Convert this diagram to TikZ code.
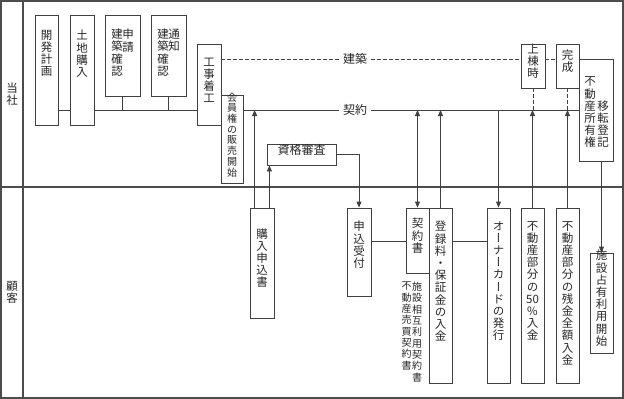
\documentclass[tikz,border=0pt]{standalone}
\usepackage{fontspec}
\setmainfont{Noto Sans CJK JP}[RawFeature=+vert]
\usetikzlibrary{arrows.meta,fit,calc}
\tikzset{
  frame/.style={draw=black!70, line width=1.2pt},
  bx/.style={draw=black!75, line width=0.8pt, inner sep=0pt},
  ln/.style={draw=black!75, line width=0.8pt},
  dsh/.style={draw=black!75, line width=0.8pt, dash pattern=on 4pt off 2pt},
  arr/.style={ln, -{Triangle[length=6pt,width=5pt]}},
  dbl/.style={ln, {Triangle[length=6pt,width=5pt]}-{Triangle[length=6pt,width=5pt]}},
  smalltxt/.style={font=\fontsize{10}{10.7}\selectfont},
  captxt/.style={font=\fontsize{10}{11.3}\selectfont},
  hlab/.style={font=\fontsize{12}{12}\selectfont, fill=white, inner xsep=4pt, inner ysep=1pt},
}
\begin{document}
\begin{tikzpicture}[x=1pt,y=-1pt,
  font=\fontsize{11.5}{12.2}\selectfont,
  every node/.style={inner sep=0pt, align=center, text=black!85}]
\useasboundingbox (0,0) rectangle (624,399);
% frame
\draw[frame] (1,1) rectangle (623,398);
\draw[frame] (23,1) -- (23,398);
\draw[frame] (1,187) -- (623,187);
\node (lane1) at (12,94) {当\\社};
\node (lane2) at (12,292) {顧\\客};

% upper lane boxes
\node[bx, fit={(35,15) (58,125)}] (kaihatsu) {};
\node[anchor=north] (tkaihatsu) at (46.5,30) {開\\発\\計\\画};
\node[bx, fit={(70,15) (94,125)}] (tochi) {};
\node[anchor=north] (ttochi) at (82,30) {土\\地\\購\\入};
\node[bx, fit={(105,15) (140,96)}] (shinsei) {};
\node[anchor=north] (tshinseiA) at (128,29) {申\\請};
\node[anchor=north] (tshinseiB) at (117,29) {建\\築\\確\\認};
\node[bx, fit={(151,15) (186,96)}] (tsuchi) {};
\node[anchor=north] (ttsuchiA) at (174,29) {通\\知};
\node[anchor=north] (ttsuchiB) at (163,29) {建\\築\\確\\認};
\node[bx, fit={(197,44) (221,125)}] (koji) {工\\事\\着\\工};
\node[bx, fit={(221,95) (243,183)}, smalltxt] (kaiin) {会\\員\\権\\の\\販\\売\\開\\始};
\node[bx, fit={(267,144) (336,165)}, font=\fontsize{12}{12}\selectfont] (shikaku) {資格審査};
\node[bx, fit={(521,44) (545,88)}] (joto) {上\\棟\\時};
\node[bx, fit={(556,44) (579,88)}] (kansei) {完\\成};
\node[bx, fit={(579,59) (613,161)}] (iten) {};
\node[anchor=south] (titenA) at (590,148) {不\\動\\産\\所\\有\\権};
\node[anchor=south] (titenB) at (603,148) {移\\転\\登\\記};

% lower lane boxes
\node[bx, fit={(250,208) (274,318)}] (konyu) {購\\入\\申\\込\\書};
\node[bx, fit={(347,208) (371,296)}] (moushikomi) {};
\node[anchor=north] (tmoushikomi) at (359,221) {申\\込\\受\\付};
\node[bx, fit={(406,208) (429,273)}] (keiyakusho) {契\\約\\書};
\node[anchor=north, captxt] (capA) at (417,282) {施\\設\\相\\互\\利\\用\\契\\約\\書};
\node[anchor=north, captxt] (capB) at (406.5,282) {不\\動\\産\\売\\買\\契\\約\\書};
\node[bx, fit={(429,208) (452,383)}] (toroku) {};
\node[anchor=north] (ttoroku) at (440.5,221) {登\\録\\料\\・\\保\\証\\金\\の\\入\\金};
\node[bx, fit={(487,208) (510,383)}] (owner) {};
\node[anchor=north] (towner) at (498.5,221) {オ\\ー\\ナ\\ー\\カ\\ー\\ド\\の\\発\\行};
\node[bx, fit={(521,208) (544,383)}] (fifty) {};
\node[anchor=north] (tfifty) at (532.5,221) {不\\動\\産\\部\\分\\の\\50\\\%\\入\\金};
\node[bx, fit={(556,208) (579,383)}] (zankin) {};
\node[anchor=north] (tzankin) at (567.5,221) {不\\動\\産\\部\\分\\の\\残\\金\\全\\額\\入\\金};
\node[bx, fit={(590,253) (613,353)}] (shisetsu) {施\\設\\占\\有\\利\\用\\開\\始};

% line labels
\node[hlab] (kenchiku) at (355,59) {建築};
\node[hlab] (keiyaku) at (355,110) {契約};
\coordinate (R) at (0,241);

% 建築 dashed line
\draw[dsh] (koji.east |- kenchiku) -- (kenchiku.west);
\draw[dsh] (kenchiku.east) -- (joto.west |- kenchiku);
\draw[dsh] (joto.east |- kenchiku) -- (kansei.west |- kenchiku);

% 契約 line and left connections
\draw[ln] (kaihatsu.east |- keiyaku) -- (tochi.west |- keiyaku);
\draw[ln] (tochi.east |- keiyaku) -- (koji.west |- keiyaku);
\draw[ln] (shinsei.south) -- (shinsei.south |- keiyaku);
\draw[ln] (tsuchi.south) -- (tsuchi.south |- keiyaku);
\draw[ln] (kaiin.east |- keiyaku) -- (keiyaku.west);
\draw[ln] (keiyaku.east) -- (iten.west |- keiyaku);

% dashed drops
\draw[dsh] (joto.south) -- (joto.south |- keiyaku);
\draw[dsh] (kansei.south) -- (kansei.south |- keiyaku);

% arrows
\draw[arr] ([xshift=5pt]konyu.north west) -- ([xshift=5pt]konyu.north west |- keiyaku);
\draw[arr] ([xshift=-5pt]konyu.north east) -- ([xshift=-5pt]konyu.north east |- shikaku.south);
\draw[arr] (shikaku.east) -| (moushikomi.north);
\draw[ln] (moushikomi.east |- R) -- (keiyakusho.west |- R);
\draw[dbl] (keiyakusho.north) -- (keiyakusho.north |- keiyaku);
\draw[arr] (toroku.north) -- (toroku.north |- keiyaku);
\draw[ln] (toroku.east |- R) -- (owner.west |- R);
\draw[arr] (owner.north |- keiyaku) -- (owner.north);
\draw[arr] (fifty.north) -- (fifty.north |- keiyaku);
\draw[arr] (zankin.north) -- (zankin.north |- keiyaku);
\draw[arr] (shisetsu.north |- iten.south) -- (shisetsu.north);
\end{tikzpicture}
\end{document}
